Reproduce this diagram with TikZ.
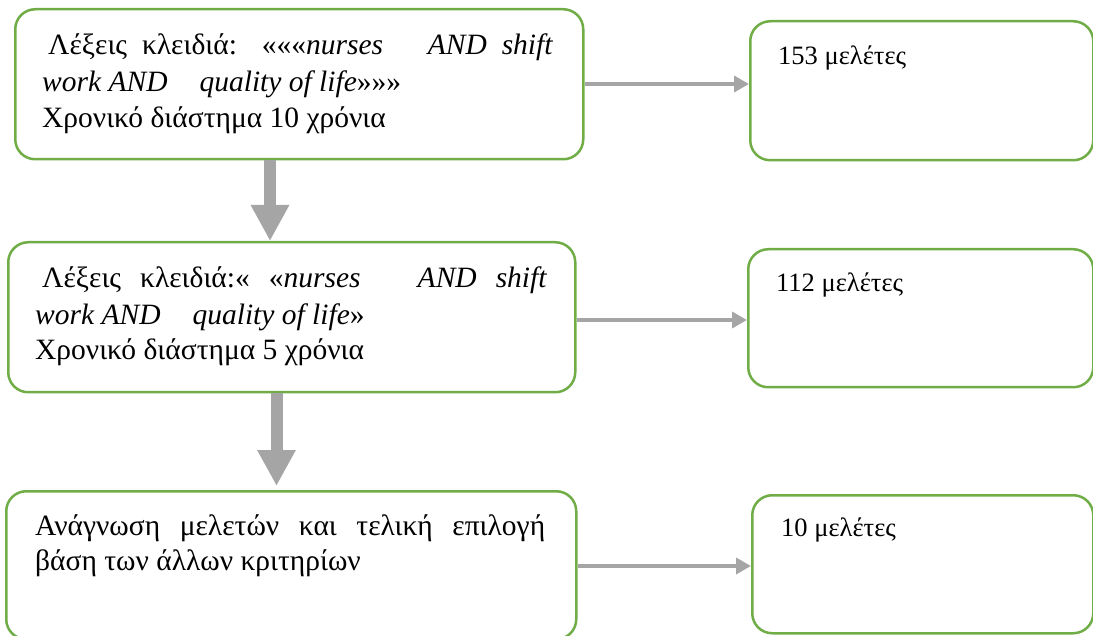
\documentclass[tikz,border=0pt]{standalone}
\usepackage{fontspec}
\setmainfont{Liberation Serif}
\usetikzlibrary{arrows.meta}
\definecolor{boxgreen}{HTML}{70AD47}
\definecolor{arrgray}{HTML}{A5A5A5}
\begin{document}
\begin{tikzpicture}[x=1pt,y=-1pt,
  box/.style={draw=boxgreen, line width=2.5pt, rounded corners=20pt, fill=white, inner sep=0pt},
  thinarrow/.style={draw=arrgray, line width=3.5pt, -{Triangle[length=15pt,width=16pt]}},
  bigarrow/.style={draw=arrgray, line width=12pt, -{Triangle[length=36pt,width=36pt]}},
  txt/.style={font=\fontsize{29.5}{34}\selectfont, anchor=base west, inner sep=0pt},
  rtxt/.style={font=\fontsize{26.5}{30}\selectfont, anchor=base west, inner sep=0pt}]
\useasboundingbox (0,0) rectangle (1093,636);
% boxes
\node[box, anchor=north west, minimum width=568pt, minimum height=150pt] (b1) at (14,8) {};
\node[box, anchor=north west, minimum width=343pt, minimum height=139pt] (b1r) at (749,20) {};
\node[box, anchor=north west, minimum width=567pt, minimum height=150pt] (b2) at (7,241) {};
\node[box, anchor=north west, minimum width=345pt, minimum height=138pt] (b2r) at (747,248) {};
\node[box, anchor=north west, minimum width=570pt, minimum height=148pt] (b3) at (5,490) {};
\node[box, anchor=north west, minimum width=341pt, minimum height=138pt] (b3r) at (751,494) {};
% texts box 1
\node[txt] (t1a) at (48,55) {\makebox[505pt][s]{Λέξεις κλειδιά: «««\textit{nurses}\ \ \ \textit{AND} \textit{shift}}};
\node[txt] (t1b) at (42,92) {\textit{work AND}\hspace{32pt}\textit{quality of life}»»»};
\node[txt] (t1c) at (42,128) {Χρονικό διάστημα 10 χρόνια};
% texts box 2
\node[txt] (t2a) at (42,288) {\makebox[505pt][s]{Λέξεις κλειδιά:« «\textit{nurses}\ \ \ \textit{AND} \textit{shift}}};
\node[txt] (t2b) at (35,325) {\textit{work AND}\hspace{32pt}\textit{quality of life}»};
\node[txt] (t2c) at (35,360) {Χρονικό διάστημα 5 χρόνια};
% texts box 3
\node[txt] (t3a) at (35,535) {\makebox[510pt][s]{Ανάγνωση μελετών και τελική επιλογή}};
\node[txt] (t3b) at (35,570) {βάση των άλλων κριτηρίων};
% right texts
\node[rtxt] (r1) at (778,65) {153 μελέτες};
\node[rtxt] (r2) at (776,292) {112 μελέτες};
\node[rtxt] (r3) at (781,536) {10 μελέτες};
% connectors
\coordinate (y1) at (0,84);
\coordinate (y2) at (0,320);
\coordinate (y3) at (0,566);
\coordinate (x1) at (270,0);
\coordinate (x2) at (276.5,0);
\coordinate (e2) at (276.5,486);
\draw[thinarrow] (b1.east |- y1) -- (b1r.west |- y1);
\draw[thinarrow] (b2.east |- y2) -- (b2r.west |- y2);
\draw[thinarrow] (b3.east |- y3) -- (b3r.west |- y3);
\draw[bigarrow] (b1.south -| x1) -- (b2.north -| x1);
\draw[bigarrow] (b2.south -| x2) -- (e2);
\end{tikzpicture}
\end{document}
